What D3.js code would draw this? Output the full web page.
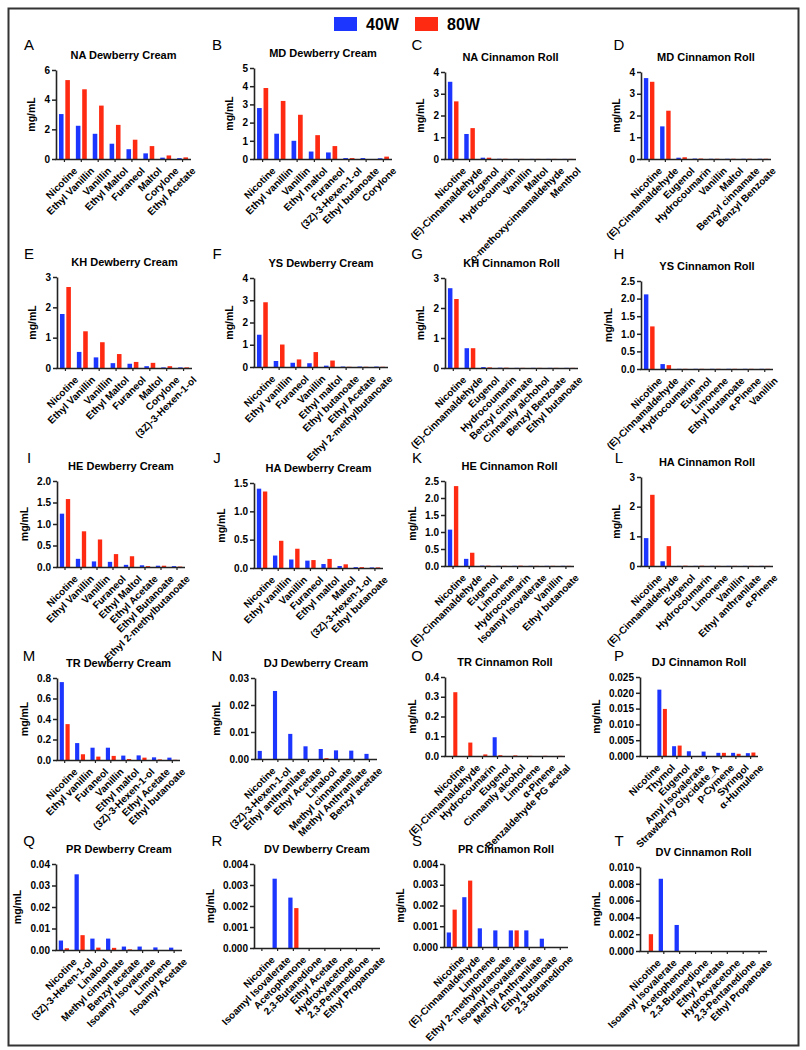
<!DOCTYPE html>
<html>
<head>
<meta charset="utf-8">
<script src="https://cdn.jsdelivr.net/npm/d3@7"></script>
<style>
  html, body { margin: 0; padding: 0; background: #fff; }
  svg text { font-family: "Liberation Sans", Arial, sans-serif; fill: #000; }
</style>
</head>
<body>
<script>
// ---------- DATA ----------
const seriesNames = ["40W", "80W"];
const panelLetters = ["A","B","C","D","E","F","G","H","I","J","K","L","M","N","O","P","Q","R","S","T"];
const panelTitles = [
  "NA Dewberry Cream","MD Dewberry Cream","NA Cinnamon Roll","MD Cinnamon Roll",
  "KH Dewberry Cream","YS Dewberry Cream","KH Cinnamon Roll","YS Cinnamon Roll",
  "HE Dewberry Cream","HA Dewberry Cream","HE Cinnamon Roll","HA Cinnamon Roll",
  "TR Dewberry Cream","DJ Dewberry Cream","TR Cinnamon Roll","DJ Cinnamon Roll",
  "PR Dewberry Cream","DV Dewberry Cream","PR Cinnamon Roll","DV Cinnamon Roll"
];
const panelCategories = [
  ["Nicotine","Ethyl Vanillin","Vanillin","Ethyl Maltol","Furaneol","Maltol","Corylone","Ethyl Acetate"],
  ["Nicotine","Ethyl vanillin","Vanillin","Ethyl maltol","Furaneol","(3Z)-3-Hexen-1-ol","Ethyl butanoate","Corylone"],
  ["Nicotine","(E)-Cinnamaldehyde","Eugenol","Hydrocoumarin","Vanillin","Maltol","o-methoxycinnamaldehyde","Menthol"],
  ["Nicotine","(E)-Cinnamaldehyde","Eugenol","Hydrocoumarin","Vanillin","Maltol","Benzyl cinnamate","Benzyl Benzoate"],
  ["Nicotine","Ethyl Vanillin","Vanillin","Ethyl Maltol","Furaneol","Maltol","Corylone","(3Z)-3-Hexen-1-ol"],
  ["Nicotine","Ethyl vanillin","Furaneol","Vanillin","Ethyl maltol","Ethyl butanoate","Ethyl Acetate","Ethyl 2-methylbutanoate"],
  ["Nicotine","(E)-Cinnamaldehyde","Eugenol","Hydrocoumarin","Benzyl cinnamate","Cinnamly alchohol","Benzyl Benzoate","Ethyl butanoate"],
  ["Nicotine","(E)-Cinnamaldehyde","Hydrocoumarin","Eugenol","Limonene","Ethyl butanoate","α-Pinene","Vanillin"],
  ["Nicotine","Ethyl Vanillin","Vanillin","Furaneol","Ethyl Maltol","Ethyl Acetate","Ethyl Butanoate","Ethyl 2-methylbutanoate"],
  ["Nicotine","Ethyl vanillin","Vanillin","Furaneol","Ethyl maltol","Maltol","(3Z)-3-Hexen-1-ol","Ethyl butanoate"],
  ["Nicotine","(E)-Cinnamaldehyde","Eugenol","Limonene","Hydrocoumarin","Isoamyl Isovalerate","Vanillin","Ethyl butanoate"],
  ["Nicotine","(E)-Cinnamaldehyde","Eugenol","Hydrocoumarin","Limonene","Vanillin","Ethyl anthranilate","α-Pinene"],
  ["Nicotine","Ethyl vanillin","Furaneol","Vanillin","Ethyl maltol","(3Z)-3-Hexen-1-ol","Ethyl Acetate","Ethyl butanoate"],
  ["Nicotine","(3Z)-3-Hexen-1-ol","Ethyl anthranilate","Ethyl Acetate","Linalool","Methyl cinnamate","Methyl Anthranilate","Benzyl acetate"],
  ["Nicotine","(E)-Cinnamaldehyde","Hydrocoumarin","Eugenol","Cinnamly alcohol","Limonene","α-Pinene","Benzaldehyde PG acetal"],
  ["Nicotine","Thymol","Eugenol","Amyl Isovalerate","Strawberry Glycidate_A","p-Cymene","Syringol","α-Humulene"],
  ["Nicotine","(3Z)-3-Hexen-1-ol","Linalool","Methyl cinnamate","Benzyl acetate","Isoamyl Isovalerate","Limonene","Isoamyl Acetate"],
  ["Nicotine","Isoamyl Isovalerate","Acetophenone","2,3-Butanedione","Ethyl Acetate","Hydroxyacetone","2,3-Pentanedione","Ethyl Propanoate"],
  ["Nicotine","(E)-Cinnamaldehyde","Limonene","Ethyl 2-methylbutanoate","Isoamyl Isovalerate","Methyl Anthranilate","Ethyl butanoate","2,3-Butanedione"],
  ["Nicotine","Isoamyl Isovalerate","Acetophenone","2,3-Butanedione","Ethyl Acetate","Hydroxyacetone","2,3-Pentanedione","Ethyl Propanoate"]
];
const values40W = [
  [3.03, 2.24, 1.70, 1.03, 0.66, 0.38, 0.09, 0.06],
  [2.80, 1.39, 1.00, 0.41, 0.36, 0.05, 0.05, 0.04],
  [3.55, 1.15, 0.06, 0.01, 0.005, 0.005, 0.005, 0.005],
  [3.72, 1.50, 0.06, 0.02, 0.01, 0.01, 0.01, 0.01],
  [1.78, 0.53, 0.35, 0.16, 0.14, 0.06, 0.02, 0.02],
  [1.45, 0.27, 0.19, 0.17, 0.06, 0.02, 0.02, 0.02],
  [2.66, 0.66, 0.03, 0.01, 0.005, 0.005, 0.005, 0.005],
  [2.12, 0.14, 0.005, 0.005, 0.005, 0.005, 0.005, 0.005],
  [1.24, 0.19, 0.13, 0.12, 0.05, 0.04, 0.03, 0.02],
  [1.40, 0.22, 0.15, 0.13, 0.07, 0.035, 0.015, 0.01],
  [1.07, 0.21, 0.01, 0.005, 0.005, 0.005, 0.005, 0.005],
  [0.94, 0.16, 0.005, 0.005, 0.005, 0.005, 0.005, 0.005],
  [0.76, 0.165, 0.12, 0.12, 0.043, 0.045, 0.026, 0.023],
  [0.0030, 0.0252, 0.0093, 0.0047, 0.0037, 0.0032, 0.0031, 0.0019],
  [0, 0, 0, 0.095, 0, 0, 0, 0],
  [0, 0.0210, 0.0031, 0.0015, 0.0014, 0.0010, 0.0010, 0.0009],
  [0.0044, 0.0352, 0.0053, 0.0053, 0.0016, 0.0016, 0.0012, 0.0011],
  [0, 0.0033, 0.0024, 0, 0, 0, 0, 0],
  [0.0007, 0.0024, 0.0009, 0.0008, 0.0008, 0.0008, 0.0004, 0],
  [0, 0.0086, 0.0031, 0, 0, 0, 0, 0]
];
const values80W = [
  [5.32, 4.70, 3.60, 2.30, 1.30, 0.87, 0.24, 0.11],
  [3.90, 3.19, 2.43, 1.31, 0.71, 0.05, 0, 0.13],
  [2.65, 1.42, 0.06, 0.01, 0.005, 0.005, 0.005, 0.005],
  [3.55, 2.22, 0.08, 0.02, 0.01, 0.01, 0.01, 0.01],
  [2.67, 1.21, 0.85, 0.46, 0.20, 0.17, 0.06, 0.02],
  [2.91, 1.01, 0.34, 0.67, 0.29, 0.01, 0.01, 0.01],
  [2.30, 0.66, 0.02, 0.01, 0.005, 0.005, 0.005, 0.005],
  [1.21, 0.11, 0.005, 0.005, 0.005, 0.005, 0.005, 0.005],
  [1.58, 0.83, 0.64, 0.30, 0.25, 0.02, 0.03, 0.01],
  [1.35, 0.48, 0.34, 0.14, 0.16, 0.065, 0.015, 0.01],
  [2.35, 0.39, 0.01, 0.005, 0.01, 0.005, 0.005, 0.005],
  [2.40, 0.67, 0.01, 0.01, 0.005, 0.005, 0.005, 0.005],
  [0.35, 0.056, 0.033, 0.04, 0.01, 0.023, 0.006, 0.002],
  [0, 0, 0, 0, 0.0003, 0, 0, 0],
  [0.323, 0.068, 0.008, 0.004, 0.003, 0.001, 0.001, 0.001],
  [0, 0.0149, 0.0033, 0, 0, 0.0010, 0.0007, 0.0011],
  [0.0008, 0.0069, 0.0011, 0.0010, 0.0003, 0, 0, 0],
  [0, 0, 0.0019, 0, 0, 0, 0, 0],
  [0.0018, 0.0032, 0, 0, 0.0008, 0, 0, 0],
  [0.0020, 0, 0, 0, 0, 0, 0, 0]
];
const yTickLabels = [
  ["0","2","4","6"],
  ["0","1","2","3","4","5"],
  ["0","1","2","3","4"],
  ["0","1","2","3","4"],
  ["0","1","2","3"],
  ["0","1","2","3","4"],
  ["0","1","2","3"],
  ["0.0","0.5","1.0","1.5","2.0","2.5"],
  ["0.0","0.5","1.0","1.5","2.0"],
  ["0.0","0.5","1.0","1.5"],
  ["0.0","0.5","1.0","1.5","2.0","2.5"],
  ["0","1","2","3"],
  ["0.0","0.2","0.4","0.6","0.8"],
  ["0.00","0.01","0.02","0.03"],
  ["0.0","0.1","0.2","0.3","0.4"],
  ["0.000","0.005","0.010","0.015","0.020","0.025"],
  ["0.00","0.01","0.02","0.03","0.04"],
  ["0.000","0.001","0.002","0.003","0.004"],
  ["0.000","0.001","0.002","0.003","0.004"],
  ["0.000","0.002","0.004","0.006","0.008","0.010"]
];
const yAxisTitle = "mg/mL";

// ---------- LAYOUT (positions only) ----------
// [axis x, plot right x, top y, zero y]
const plotBoxes = [
  [56,191,70,159],[254,392,68,159],[445,576,72,159],[641,771,72,159],
  [57,192,277,368],[254,388,278,367],[445,578,278,368],[641,773,281,369],
  [57,185,481,567],[254,383,483,568],[445,574,481,566],[641,773,477,566],
  [57,180,678,760],[255,377,678,759],[445,565,677,756],[640,758,677,756],
  [56,182,864,950],[254,380,864,948],[444,568,864,947],[640,767,867,951]
];
const letterX = [29, 217, 417, 619];
const letterY = [44, 253, 457, 655, 840];
const colors = {"40W": "#1d36ff", "80W": "#ff2a12"};

// ---------- DRAW ----------
const W = 806, H = 1050;
const svg = d3.select("body").append("svg").attr("width", W).attr("height", H);

svg.append("rect").attr("x", 8.5).attr("y", 8.5).attr("width", 790).attr("height", 1037)
  .attr("fill", "none").attr("stroke", "#333").attr("stroke-width", 2);

// legend
const legend = svg.append("g");
const legX = [334, 415];
seriesNames.forEach((s, i) => {
  legend.append("rect").attr("x", legX[i]).attr("y", 17).attr("width", 23).attr("height", 14)
    .attr("fill", colors[s]);
  legend.append("text").attr("x", legX[i] + 32).attr("y", 30)
    .attr("font-size", 16).attr("font-weight", "bold").text(s);
});

panelTitles.forEach((title, i) => {
  const [x0, x1, yT, yB] = plotBoxes[i];
  const col = i % 4, row = Math.floor(i / 4);
  const g = svg.append("g");
  const cats = panelCategories[i];
  const ticks = yTickLabels[i].map(Number);
  const y = d3.scaleLinear().domain([0, d3.max(ticks)]).range([yB, yT]);
  const x = d3.scaleBand().domain(cats).range([x0, x1]).padding(0);
  const xs = d3.scaleBand().domain(seriesNames).range([0, x.bandwidth()])
    .paddingInner(0.28).paddingOuter(0.47);

  // letter
  g.append("text").attr("x", letterX[col]).attr("y", letterY[row] + 6)
    .attr("text-anchor", "middle").attr("font-size", 15).text(panelLetters[i]);
  // title
  g.append("text").attr("x", (x0 + x1) / 2).attr("y", yT - 11)
    .attr("text-anchor", "middle").attr("font-size", 11).attr("font-weight", "bold").text(title);

  // bars
  const rows = cats.map((c, k) => ({cat: c, "40W": values40W[i][k], "80W": values80W[i][k]}));
  seriesNames.forEach(s => {
    g.selectAll(null).data(rows.filter(d => d[s] > 0)).enter().append("rect")
      .attr("x", d => x(d.cat) + xs(s))
      .attr("y", d => y(d[s]))
      .attr("width", xs.bandwidth())
      .attr("height", d => yB - y(d[s]))
      .attr("fill", colors[s]);
  });

  // y axis
  const yAxis = g.append("g").attr("transform", `translate(${x0},0)`)
    .call(d3.axisLeft(y).tickValues(ticks).tickFormat((d, k) => yTickLabels[i][k])
      .tickSize(4).tickSizeOuter(0).tickPadding(2));
  yAxis.selectAll("text").attr("font-size", 10).attr("font-weight", "bold")
    .attr("font-family", "Liberation Sans, Arial, sans-serif").attr("fill", "#000");
  yAxis.selectAll("line").attr("stroke", "#222").attr("stroke-width", 1.5);
  yAxis.select(".domain").attr("stroke", "#222").attr("stroke-width", 1.6);
  let maxW = 0;
  yAxis.selectAll("text").each(function() { maxW = Math.max(maxW, this.getBBox().width); });

  // x axis
  const xAxis = g.append("g").attr("transform", `translate(0,${yB})`)
    .call(d3.axisBottom(x).tickSize(3).tickSizeOuter(0));
  xAxis.select(".domain").attr("stroke", "#222").attr("stroke-width", 1.6)
    .attr("d", `M${x0 - 0.8},0.5H${x1}`);
  xAxis.selectAll("line").attr("stroke", "#222").attr("stroke-width", 1.2);
  xAxis.selectAll("text")
    .attr("font-size", 10).attr("font-weight", "bold")
    .attr("font-family", "Liberation Sans, Arial, sans-serif").attr("fill", "#000")
    .attr("text-anchor", "end")
    .attr("transform", "translate(4,3) rotate(-45)")
    .attr("dy", "0.75em").attr("dx", "0");

  // y axis title
  const yc = (yT + yB) / 2;
  const tx = x0 - 6 - maxW - 9;
  g.append("text").attr("transform", `translate(${tx},${yc}) rotate(-90)`)
    .attr("text-anchor", "middle").attr("font-size", 10.5).attr("font-weight", "bold").text(yAxisTitle);
});
</script>
</body>
</html>
